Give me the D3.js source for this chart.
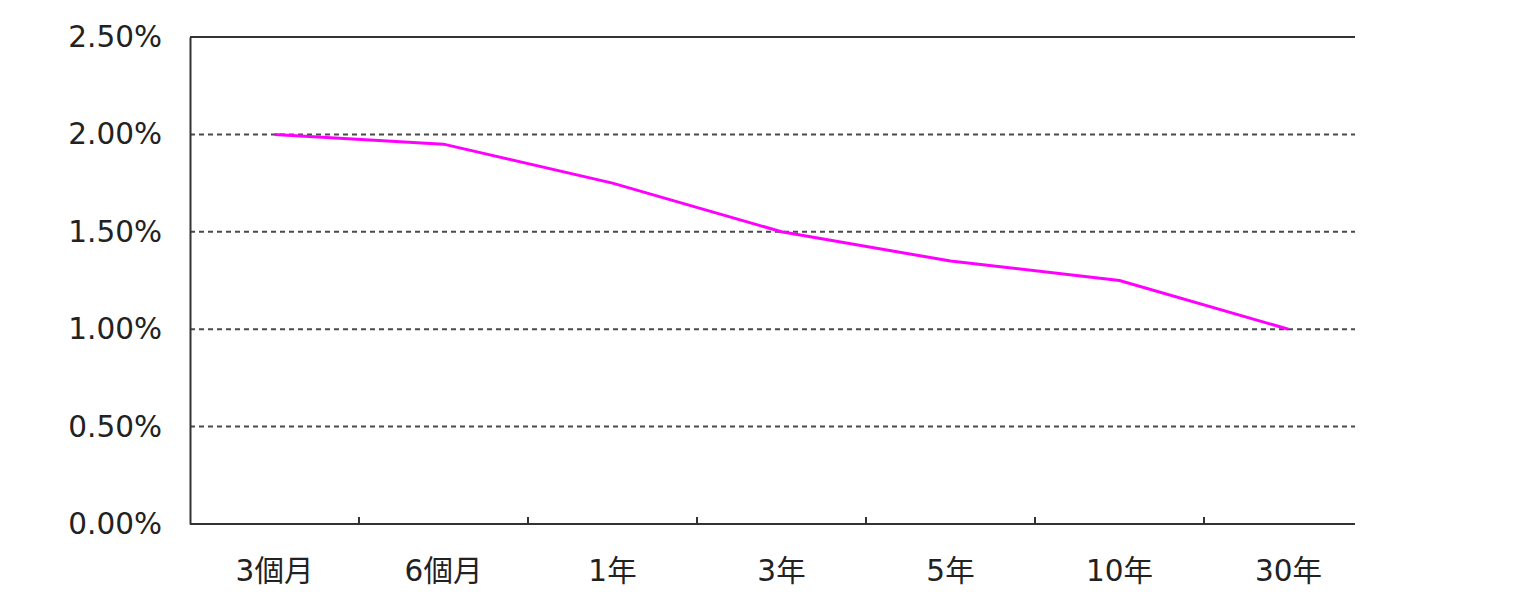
<!DOCTYPE html>
<html>
<head>
<meta charset="utf-8">
<script src="https://cdn.jsdelivr.net/npm/d3@7"></script>
<style>
  html, body { margin: 0; padding: 0; background: #fff; }
  svg { display: block; }
  text { font-family: "DejaVu Sans", "Noto Sans CJK TC", sans-serif; fill: #222; }
</style>
</head>
<body>
<svg id="chart" width="1536" height="605"></svg>
<script>
const categories = ["3個月", "6個月", "1年", "3年", "5年", "10年", "30年"];
const rates = [2.00, 1.95, 1.75, 1.50, 1.35, 1.25, 1.00];
const yTicks = [0, 0.5, 1.0, 1.5, 2.0, 2.5];

(function () {
const svg = d3.select("#chart");
const mLeft = 190, mRight = 1355, mTop = 37, mBottom = 524, band = 169;

const x = d3.scaleBand().domain(categories).range([mLeft, mLeft + band * categories.length]);
const y = d3.scaleLinear().domain([0, 2.5]).range([mBottom, mTop]);

// dashed gridlines
svg.append("g").selectAll("line")
  .data(yTicks.filter(t => t > 0 && t < 2.5))
  .join("line")
  .attr("x1", mLeft).attr("x2", mRight)
  .attr("y1", d => y(d)).attr("y2", d => y(d))
  .attr("stroke", "#4a4a4a").attr("stroke-width", 2)
  .attr("stroke-dasharray", "5,4");

// top border
svg.append("line")
  .attr("x1", mLeft).attr("x2", mRight).attr("y1", y(2.5)).attr("y2", y(2.5))
  .attr("stroke", "#333").attr("stroke-width", 2);

// y axis
const yAxis = d3.axisLeft(y).tickValues(yTicks).tickSize(0).tickPadding(28)
  .tickFormat(d => d.toFixed(2) + "%");
const gy = svg.append("g").attr("transform", `translate(${mLeft},0)`).call(yAxis);
gy.select(".domain").attr("stroke", "#333").attr("stroke-width", 2);
gy.selectAll("text").style("font-size", "29.5px").attr("fill", "#222");

// x axis
const xAxis = d3.axisBottom(x).tickSize(0).tickPadding(36);
const gx = svg.append("g").attr("transform", `translate(0,${mBottom})`).call(xAxis);
gx.select(".domain").remove();
gx.selectAll("text").style("font-size", "29.5px").attr("fill", "#222");
svg.append("line")
  .attr("x1", mLeft).attr("x2", mRight).attr("y1", mBottom).attr("y2", mBottom)
  .attr("stroke", "#333").attr("stroke-width", 2);
// tick marks between categories
svg.append("g").selectAll("line")
  .data(categories.slice(1))
  .join("line")
  .attr("x1", d => x(d)).attr("x2", d => x(d))
  .attr("y1", mBottom).attr("y2", mBottom - 7)
  .attr("stroke", "#333").attr("stroke-width", 2);

// line
const line = d3.line()
  .x((d, i) => x(categories[i]) + x.bandwidth() / 2)
  .y(d => y(d));
svg.append("path")
  .datum(rates)
  .attr("d", line)
  .attr("fill", "none")
  .attr("stroke", "#ff00ff")
  .attr("stroke-width", 3);
})();
</script>
</body>
</html>
